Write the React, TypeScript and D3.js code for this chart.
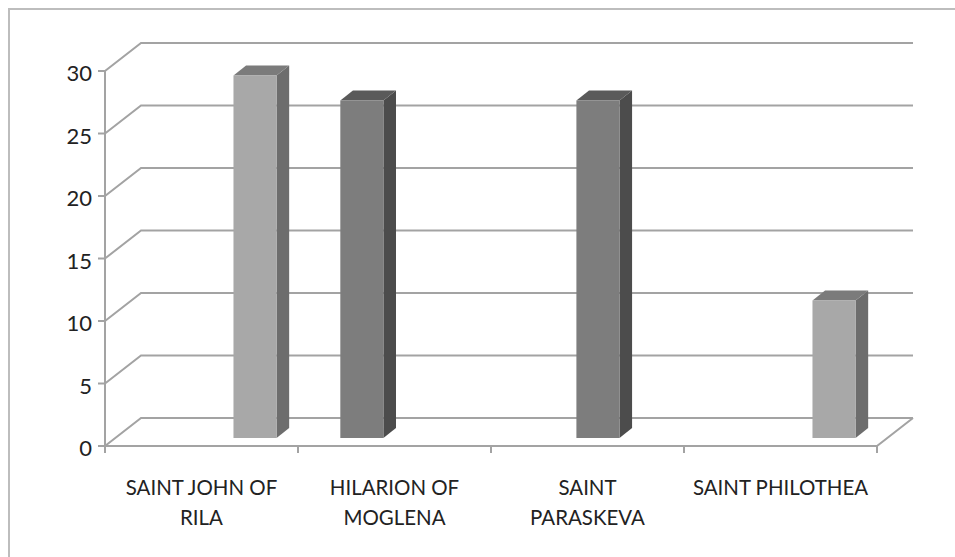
import * as d3 from "d3";

const categories = ["SAINT JOHN OF RILA", "HILARION OF MOGLENA", "SAINT PARASKEVA", "SAINT PHILOTHEA"];
const categoryLines = [["SAINT JOHN OF", "RILA"], ["HILARION OF", "MOGLENA"], ["SAINT", "PARASKEVA"], ["SAINT PHILOTHEA"]];
const seriesNames = ["Series 1", "Series 2", "Series 3"];
const series1 = [0, 27, 0, 0];
const series2 = [0, 0, 27, 0];
const series3 = [29, 0, 0, 11];
const yTicks = [0, 5, 10, 15, 20, 25, 30];

const W = 955;
const H = 557;
// front plane of the plot and the depth of the 3d box
const left = 105;
const right = 877;
const depthX = 36;
const depthY = -28;
// bars sit part way into the box
const barFront = 0.29;
const barBack = 0.64;

const colors = [
  { front: "#7d7d7d", side: "#4c4c4c", top: "#5a5a5a" },
  { front: "#7d7d7d", side: "#4c4c4c", top: "#5a5a5a" },
  { front: "#a8a8a8", side: "#6d6d6d", top: "#7b7b7b" },
];

const font = "Lato, 'Open Sans', sans-serif";

export default function App() {
  const y = d3.scaleLinear().domain([0, 30]).range([446, 71]);
  const x = d3.scaleBand<string>().domain(categories).range([left, right]);
  const inner = d3
    .scaleBand<string>()
    .domain(seriesNames)
    .range([0, x.bandwidth()])
    .paddingInner(0)
    .paddingOuter(0.74);

  const allSeries = [series1, series2, series3];
  const grid = "#a3a3a3";

  const bars: JSX.Element[] = [];
  allSeries.forEach((vals, si) => {
    vals.forEach((v, ci) => {
      if (!v) return;
      const c = colors[si];
      const fx = barFront * depthX;
      const fy = barFront * depthY;
      const bx = barBack * depthX;
      const by = barBack * depthY;
      const x0 = x(categories[ci])! + inner(seriesNames[si])! + fx;
      const x1 = x0 + inner.bandwidth();
      const yb = y(0) + fy;
      const yt = y(v) + fy;
      const ddx = bx - fx;
      const ddy = by - fy;
      const front = `M${x0},${yt}L${x1},${yt}L${x1},${yb}L${x0},${yb}Z`;
      const side = `M${x1},${yt}L${x1 + ddx},${yt + ddy}L${x1 + ddx},${yb + ddy}L${x1},${yb}Z`;
      const top = `M${x0},${yt}L${x0 + ddx},${yt + ddy}L${x1 + ddx},${yt + ddy}L${x1},${yt}Z`;
      bars.push(
        <g key={`${si}-${ci}`}>
          <path d={side} fill={c.side} />
          <path d={top} fill={c.top} />
          <path d={front} fill={c.front} />
        </g>
      );
    });
  });

  return (
    <svg
      width={W}
      height={H}
      style={{ position: "absolute", left: 0, top: 0, display: "block", background: "#fff" }}
    >
      <rect x={9} y={9} width={W + 20} height={H + 20} fill="none" stroke="#bdbdbd" strokeWidth={2} />

      {/* back wall gridlines and side wall diagonals */}
      {yTicks.map((t) => (
        <g key={t} stroke={grid} strokeWidth={2} fill="none">
          <path d={`M${left},${y(t)}L${left + depthX},${y(t) + depthY}L${right + depthX},${y(t) + depthY}`} />
        </g>
      ))}

      {/* floor */}
      <path
        d={`M${left},${y(0)}L${right},${y(0)}L${right + depthX},${y(0) + depthY}`}
        stroke={grid}
        strokeWidth={2}
        fill="none"
      />

      {bars}

      {/* y axis */}
      <line x1={left} x2={left} y1={y(0)} y2={y(30)} stroke={grid} strokeWidth={2} />
      {yTicks.map((t) => (
        <g key={t}>
          <line x1={left - 7} x2={left} y1={y(t)} y2={y(t)} stroke={grid} strokeWidth={2} />
          <text
            x={92}
            y={y(t) + 10}
            textAnchor="end"
            fontFamily={font}
            fontSize={22}
            fill="#222"
          >
            {t}
          </text>
        </g>
      ))}

      {/* x axis ticks and labels */}
      {[...categories.map((c) => x(c)!), right].map((px, i) => (
        <line key={i} x1={px} x2={px} y1={y(0)} y2={y(0) + 7} stroke={grid} strokeWidth={2} />
      ))}
      {categories.map((c, i) => {
        const cx = x(c)! + x.bandwidth() / 2;
        return (
          <text
            key={c}
            transform={`translate(${cx},495) scale(0.93,1)`}
            textAnchor="middle"
            fontFamily={font}
            fontSize={22}
            fill="#222"
          >
            {categoryLines[i].map((ln, j) => (
              <tspan key={j} x={0} y={j * 30}>
                {ln}
              </tspan>
            ))}
          </text>
        );
      })}
    </svg>
  );
}
